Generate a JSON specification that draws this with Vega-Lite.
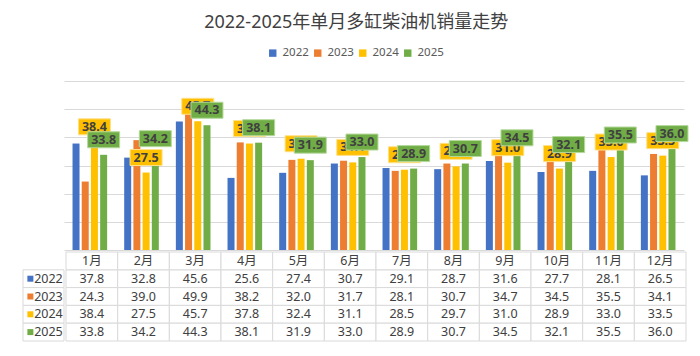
{
  "$schema": "https://vega.github.io/schema/vega-lite/v6.json",
  "background": "white",
  "padding": {"left": 22, "top": 14, "right": 5, "bottom": 5},
  "title": {"text": "2022-2025年单月多缸柴油机销量走势", "fontSize": 18, "fontWeight": "normal", "color": "#404040", "font": "Noto Sans, Noto Sans CJK SC", "anchor": "middle", "offset": 15},
  "config": {"view": {"stroke": null}, "font": "Noto Sans, Noto Sans CJK SC"},
  "datasets": {
    "d": [
      {"month": "1月", "year": "2022", "value": 37.8}, {"month": "2月", "year": "2022", "value": 32.8}, {"month": "3月", "year": "2022", "value": 45.6}, {"month": "4月", "year": "2022", "value": 25.6}, {"month": "5月", "year": "2022", "value": 27.4}, {"month": "6月", "year": "2022", "value": 30.7}, {"month": "7月", "year": "2022", "value": 29.1}, {"month": "8月", "year": "2022", "value": 28.7}, {"month": "9月", "year": "2022", "value": 31.6}, {"month": "10月", "year": "2022", "value": 27.7}, {"month": "11月", "year": "2022", "value": 28.1}, {"month": "12月", "year": "2022", "value": 26.5},
      {"month": "1月", "year": "2023", "value": 24.3}, {"month": "2月", "year": "2023", "value": 39.0}, {"month": "3月", "year": "2023", "value": 49.9}, {"month": "4月", "year": "2023", "value": 38.2}, {"month": "5月", "year": "2023", "value": 32.0}, {"month": "6月", "year": "2023", "value": 31.7}, {"month": "7月", "year": "2023", "value": 28.1}, {"month": "8月", "year": "2023", "value": 30.7}, {"month": "9月", "year": "2023", "value": 34.7}, {"month": "10月", "year": "2023", "value": 34.5}, {"month": "11月", "year": "2023", "value": 35.5}, {"month": "12月", "year": "2023", "value": 34.1},
      {"month": "1月", "year": "2024", "value": 38.4}, {"month": "2月", "year": "2024", "value": 27.5}, {"month": "3月", "year": "2024", "value": 45.7}, {"month": "4月", "year": "2024", "value": 37.8}, {"month": "5月", "year": "2024", "value": 32.4}, {"month": "6月", "year": "2024", "value": 31.1}, {"month": "7月", "year": "2024", "value": 28.5}, {"month": "8月", "year": "2024", "value": 29.7}, {"month": "9月", "year": "2024", "value": 31.0}, {"month": "10月", "year": "2024", "value": 28.9}, {"month": "11月", "year": "2024", "value": 33.0}, {"month": "12月", "year": "2024", "value": 33.5},
      {"month": "1月", "year": "2025", "value": 33.8}, {"month": "2月", "year": "2025", "value": 34.2}, {"month": "3月", "year": "2025", "value": 44.3}, {"month": "4月", "year": "2025", "value": 38.1}, {"month": "5月", "year": "2025", "value": 31.9}, {"month": "6月", "year": "2025", "value": 33.0}, {"month": "7月", "year": "2025", "value": 28.9}, {"month": "8月", "year": "2025", "value": 30.7}, {"month": "9月", "year": "2025", "value": 34.5}, {"month": "10月", "year": "2025", "value": 32.1}, {"month": "11月", "year": "2025", "value": 35.5}, {"month": "12月", "year": "2025", "value": 36.0}
    ]
  },
  "spacing": 1,
  "vconcat": [
    {
      "spacing": 0,
      "hconcat": [
        {
          "width": 41,
          "height": 169,
          "data": {"values": [{"k": ""}]},
          "mark": {"type": "text"},
          "encoding": {"text": {"field": "k", "type": "nominal"}}
        },
        {
          "width": 620,
          "height": 169,
          "data": {"name": "d"},
          "encoding": {
            "x": {"field": "month", "type": "nominal", "scale": {"domain": ["1月","2月","3月","4月","5月","6月","7月","8月","9月","10月","11月","12月"], "paddingInner": 0.33, "paddingOuter": 0.165}, "axis": null},
            "xOffset": {"field": "year", "type": "nominal", "scale": {"domain": ["2022","2023","2024","2025"], "paddingInner": 0.24}},
            "y": {"field": "value", "type": "quantitative", "scale": {"domain": [0, 60], "nice": false}, "axis": {"values": [0,10,20,30,40,50,60], "labels": false, "ticks": false, "domain": false, "grid": true, "gridColor": "#d9d9d9", "title": null}}
          },
          "layer": [
            {
              "mark": {"type": "bar"},
              "encoding": {
                "color": {"field": "year", "type": "nominal", "scale": {"domain": ["2022","2023","2024","2025"], "range": ["#4472C4","#ED7D31","#FFC000","#70AD47"]},
                  "legend": {"orient": "none", "direction": "horizontal", "legendX": 244, "legendY": -34, "title": null, "symbolType": "square", "symbolSize": 55, "symbolStrokeWidth": 0, "labelFontSize": 11.5, "labelColor": "#595959", "labelOffset": 4, "columnPadding": 3, "padding": 0}}
              }
            },
            {
              "transform": [{"filter": "datum.year === '2024'"}],
              "mark": {"type": "point", "shape": "M-1,-0.5H1V0.5H-1Z", "size": 1024, "filled": true, "fill": "#FFC000", "stroke": "#FFE08A", "strokeWidth": 1, "opacity": 1, "yOffset": -15}
            },
            {
              "transform": [{"filter": "datum.year === '2024'"}],
              "mark": {"type": "text", "yOffset": -15, "fontWeight": "bold", "fontSize": 12.5, "color": "#404040", "baseline": "middle"},
              "encoding": {"text": {"field": "value", "type": "quantitative", "format": ".1f"}}
            },
            {
              "transform": [{"filter": "datum.year === '2025'"}],
              "mark": {"type": "point", "shape": "M-1,-0.5H1V0.5H-1Z", "size": 1024, "filled": true, "fill": "#70AD47", "stroke": "#B5D99C", "strokeWidth": 1, "opacity": 1, "yOffset": -15}
            },
            {
              "transform": [{"filter": "datum.year === '2025'"}],
              "mark": {"type": "text", "yOffset": -15, "fontWeight": "bold", "fontSize": 12.5, "color": "#404040", "baseline": "middle"},
              "encoding": {"text": {"field": "value", "type": "quantitative", "format": ".1f"}}
            }
          ]
        }
      ]
    },
    {
      "spacing": 0,
      "hconcat": [
        {
          "width": 41,
          "height": 89,
          "data": {"name": "d"},
          "transform": [{"filter": "datum.month === '1月'"}],
          "encoding": {
            "y": {"field": "year", "type": "nominal", "scale": {"domain": ["h","2022","2023","2024","2025"], "paddingInner": 0, "paddingOuter": 0}, "axis": null}
          },
          "layer": [
            {
              "mark": {"type": "rect", "fill": "white", "stroke": "#d9d9d9", "strokeWidth": 1},
              "encoding": {"x": {"datum": 0, "type": "quantitative", "scale": {"domain": [0, 1], "nice": false}, "axis": null}, "x2": {"datum": 1}}
            },
            {
              "mark": {"type": "point", "shape": "square", "filled": true, "size": 36, "opacity": 1},
              "encoding": {"x": {"datum": 0.18, "type": "quantitative"}, "color": {"field": "year", "type": "nominal", "scale": {"domain": ["2022","2023","2024","2025"], "range": ["#4472C4","#ED7D31","#FFC000","#70AD47"]}, "legend": null}}
            },
            {
              "mark": {"type": "text", "align": "right", "fontSize": 12.5, "color": "#404040", "baseline": "middle"},
              "encoding": {"x": {"datum": 0.97, "type": "quantitative"}, "text": {"field": "year", "type": "nominal"}}
            }
          ]
        },
        {
          "width": 620,
          "height": 89,
          "data": {"name": "d"},
          "encoding": {
            "x": {"field": "month", "type": "nominal", "scale": {"domain": ["1月","2月","3月","4月","5月","6月","7月","8月","9月","10月","11月","12月"], "paddingInner": 0, "paddingOuter": 0}, "axis": null}
          },
          "layer": [
            {
              "mark": {"type": "rect", "fill": "white", "stroke": "#d9d9d9", "strokeWidth": 1},
              "encoding": {"y": {"field": "year", "type": "nominal", "scale": {"domain": ["h","2022","2023","2024","2025"], "paddingInner": 0, "paddingOuter": 0}, "axis": null}}
            },
            {
              "transform": [{"filter": "datum.year === '2022'"}],
              "mark": {"type": "rect", "fill": "white", "stroke": "#d9d9d9", "strokeWidth": 1},
              "encoding": {"y": {"datum": "h", "type": "nominal"}}
            },
            {
              "mark": {"type": "text", "fontSize": 12.5, "color": "#404040", "baseline": "middle"},
              "encoding": {"y": {"field": "year", "type": "nominal"}, "text": {"field": "value", "type": "quantitative", "format": ".1f"}}
            },
            {
              "transform": [{"filter": "datum.year === '2022'"}],
              "mark": {"type": "text", "fontSize": 12.5, "color": "#404040", "baseline": "middle"},
              "encoding": {"y": {"datum": "h", "type": "nominal"}, "text": {"field": "month", "type": "nominal"}}
            }
          ]
        }
      ]
    }
  ]
}
